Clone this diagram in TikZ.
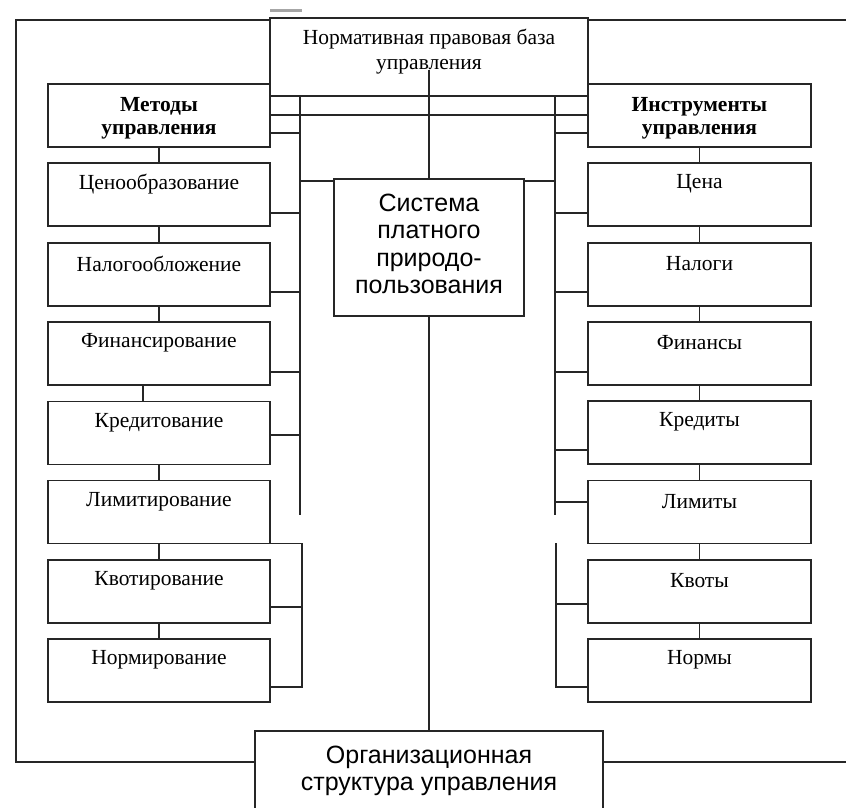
\documentclass[tikz,border=0pt]{standalone}
\usepackage{fontspec}
\setmainfont{Liberation Serif}
\newfontfamily\sansf{Liberation Sans}
\begin{document}
\begin{tikzpicture}[x=1pt,y=-1pt,
  ln/.style={line width=1.7pt, draw=black!85},
  box/.style={ln, rectangle, inner sep=0pt, outer sep=0pt, anchor=north west},
  lbox/.style={box, minimum width=222pt, minimum height=63pt},
  rbox/.style={box, minimum width=223pt, minimum height=63pt},
  lab/.style={font=\fontsize{21.5}{25}\selectfont, inner sep=0pt},
  big/.style={font=\sansf\fontsize{25}{27.5}\selectfont, align=center, inner sep=0pt}]
\useasboundingbox (0,0) rectangle (846,807);
\clip (0,0) rectangle (846,807);

% top box
\node[box, minimum width=318pt, minimum height=78pt] (norm) at (270,18) {};
\node[inner sep=0pt, align=center, font=\fontsize{21.5}{25}\selectfont] (normt) at (429,52) {Нормативная правовая база\\управления};

% head boxes
\node[lbox] (met) at (48,84) {};
\node[inner sep=0pt, align=center, font=\bfseries\fontsize{21.5}{23}\selectfont] (mett) at (159,118) {Методы\\управления};
\node[rbox] (ins) at (588,84) {};
\node[inner sep=0pt, align=center, font=\bfseries\fontsize{21.5}{23}\selectfont] (inst) at (699.5,118) {Инструменты\\управления};

% columns
\foreach \n/\y/\t in {1/163/Ценообразование, 2/243/Налогообложение, 3/322/Финансирование, 4/401.5/Кредитование, 5/480.5/Лимитирование, 6/560/Квотирование, 7/639/Нормирование}
  \node[lbox, label={[lab, anchor=center, yshift=-21pt]north:\t}] (l\n) at (48,\y) {};
\foreach \n/\y/\t in {1/163/Цена, 2/243/Налоги, 3/322/Финансы, 4/401/Кредиты, 5/480.5/Лимиты, 6/560/Квоты, 7/639/Нормы}
  \node[rbox, label={[lab, anchor=center, yshift=-21pt]north:\t}] (r\n) at (588,\y) {};

% system and organisation boxes
\node[box, minimum width=190pt, minimum height=137pt] (sys) at (334,179) {};
\node[big] (syst) at (429,244) {Система\\платного\\природо-\\пользования};
\node[box, minimum width=348pt, minimum height=100pt] (org) at (255,731) {};
\node[big] (orgt) at (429,771) {Организационная\\структура управления};

% vertical chain connectors
\draw[ln] (met.south) -- (l1.north);
\draw[ln] (l1.south) -- (l2.north);
\draw[ln] (l2.south) -- (l3.north);
\draw[ln] ([xshift=-16pt]l3.south) -- ([xshift=-16pt]l4.north);
\draw[ln] (l4.south) -- (l5.north);
\draw[ln] (l5.south) -- (l6.north);
\draw[ln] (l6.south) -- (l7.north);
\draw[ln] (ins.south) -- (r1.north);
\foreach \a/\b in {1/2,2/3,3/4,4/5,5/6,6/7}
  \draw[ln] (r\a.south) -- (r\b.north);

% buses
\coordinate (lbt) at (300,96);  \coordinate (lbb) at (300,515);
\coordinate (rbt) at (555,96);  \coordinate (rbb) at (555,515);
\draw[ln] (lbt) -- (lbb);
\draw[ln] (rbt) -- (rbb);

% horizontal lines between head boxes
\draw[ln] (met.east |- 0,115) -- (ins.west |- 0,115);
\draw[ln] (met.east |- 0,133) -- (lbt |- 0,133);
\draw[ln] (rbt |- 0,133) -- (ins.west |- 0,133);

% left bus connectors
\foreach \n/\y in {1/213, 2/292, 3/372, 4/435}
  \draw[ln] (l\n.east |- 0,\y) -- (lbt |- 0,\y);
% right bus connectors
\foreach \n/\y in {1/213, 2/292, 3/372, 4/450, 5/502}
  \draw[ln] (rbt |- 0,\y) -- (r\n.west |- 0,\y);

% lower left bus
\coordinate (llb) at (302,543.5);
\draw[ln] (l5.south east) -- (llb) -- (llb |- 0,687) -- (l7.east |- 0,687);
\draw[ln] (l6.east |- 0,607) -- (llb |- 0,607);
% lower right bus
\coordinate (lrb) at (556,543);
\draw[ln] (lrb) -- (lrb |- 0,687) -- (r7.west |- 0,687);
\draw[ln] (lrb |- 0,604) -- (r6.west |- 0,604);

% system connections
\draw[ln] (lbt |- 0,181) -- (sys.west |- 0,181);
\draw[ln] (sys.east |- 0,181) -- (rbt |- 0,181);
\coordinate (ntop) at (429,70);
\draw[ln] (ntop) -- (sys.north);
\draw[ln] (sys.south) -- (org.north);

% outer frame
\draw[ln] (norm.west |- 0,20) -- (16,20) -- (16,762) -- (org.west |- 0,762);
\draw[ln] (norm.east |- 0,20) -- (846,20);
\draw[ln] (org.east |- 0,762) -- (846,762);

% small gray dash above
\draw[line width=2.2pt, gray!70] (270,10.5) -- (302,10.5);
\end{tikzpicture}
\end{document}
